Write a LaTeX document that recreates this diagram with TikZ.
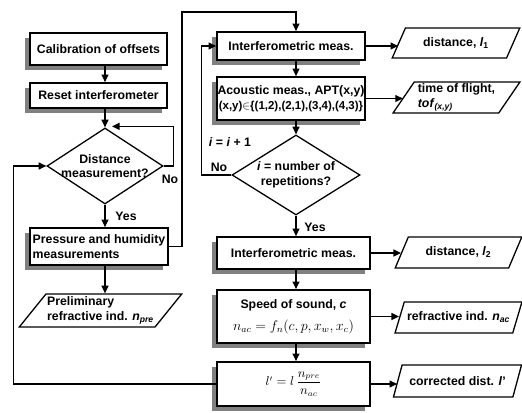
\documentclass[tikz,border=0pt]{standalone}
\usepackage{amsmath}
\usepackage{fontspec}
\setmainfont{Liberation Sans}
\usetikzlibrary{arrows.meta,positioning,calc,shapes.geometric,shadows}

\begin{document}
\begin{tikzpicture}[x=1cm,y=1cm,>={Triangle[length=6.5pt,width=6pt]},
 every node/.style={font=\fontsize{10.5}{12.5}\selectfont\bfseries},
 proc/.style={draw,line width=1.5pt,fill=white,inner sep=1pt,align=center,
   drop shadow={shadow xshift=-.15cm,shadow yshift=-.15cm,fill=black!50,opacity=1}},
 decide/.style={draw,diamond,line width=1.1pt,inner sep=0pt},
 io/.style={draw,trapezium,trapezium left angle=56,trapezium right angle=124,trapezium stretches=true,
   line width=1.1pt,inner sep=1pt,align=left},
 flow/.style={->,line width=1.1pt},
 tag/.style={inner sep=1pt}]
\useasboundingbox (0,0) rectangle (15.66,-12.39);
% left column
\node[proc,minimum width=4.11cm,minimum height=.96cm] (cal) at (2.955,-1.47) {Calibration of offsets};
\node[proc,minimum width=4.11cm,minimum height=.75cm] (reset) at (2.955,-2.865) {Reset interferometer};
\node[decide,minimum width=3.48cm,minimum height=2.28cm,
  label={[name=d1txt,align=center]center:Distance\\measurement?}] (d1) at (3.15,-4.98) {};
\node[proc,minimum width=4.14cm,minimum height=1.11cm,align=left] (press) at (2.97,-7.395) {Pressure and humidity\\measurements};
\node[io,trapezium left angle=48,trapezium right angle=132,minimum width=4.65cm,minimum height=.99cm] (prelim) at (3.015,-9.315)
  {Preliminary\\refractive ind. \textit{n}\textsubscript{\textit{pre}}};
% right column
\node[proc,minimum width=4.44cm,minimum height=.84cm] (int1) at (8.73,-1.38) {Interferometric meas.};
\node[io,minimum width=3.84cm,minimum height=.90cm] (dist1) at (13.68,-1.29) {distance, \textit{l}\textsubscript{1}};
\node[proc,minimum width=4.44cm,minimum height=1.29cm,inner sep=0pt] (acou) at (8.73,-2.955)
  {Acoustic meas., APT(x,y)\\{\fontsize{9.8}{12.5}\selectfont(x,y)$\in$\{(1,2),(2,1),(3,4),(4,3)\}}};
\node[io,minimum width=3.81cm,minimum height=.93cm] (tof) at (13.695,-2.925) {time of flight,\\\textit{tof}\textsubscript{\textit{(x,y)}}};
\node[decide,minimum width=3.84cm,minimum height=2.40cm,
  label={[name=d2txt,align=center]center:\textit{i} = number of\\repetitions?}] (d2) at (8.88,-5.25) {};
\node[proc,minimum width=4.59cm,minimum height=.96cm] (int2) at (8.805,-7.59) {Interferometric meas.};
\node[io,minimum width=3.81cm,minimum height=.93cm] (dist2) at (13.755,-7.575) {distance, \textit{l}\textsubscript{2}};
\node[proc,minimum width=4.59cm,minimum height=1.59cm] (speed) at (8.805,-9.495)
  {Speed of sound, \textit{c}\\[6pt]{\mdseries\fontsize{12}{14}\selectfont$n_{ac}=f_n(c,p,x_w,x_c)$}};
\node[io,minimum width=3.81cm,minimum height=.93cm] (ref) at (13.755,-9.525) {refractive ind. \textit{n}\textsubscript{\textit{ac}}};
\node[proc,minimum width=4.59cm,minimum height=1.32cm] (lp) at (8.805,-11.52) {\mdseries$l'=l\,\dfrac{n_{pre}}{n_{ac}}$};
\node[io,minimum width=3.87cm,minimum height=.96cm] (corr) at (13.725,-11.43) {corrected dist. \textit{l}'};
% labels
\node[tag] (no1) at (5.1,-5.37) {No};
\node[tag] (yes1) at (3.78,-6.48) {Yes};
\node[tag] (incr) at (6.9,-4.26) {\textit{i} = \textit{i} + 1};
\node[tag] (no2) at (6.57,-5.01) {No};
\node[tag] (yes2) at (9.45,-6.81) {Yes};
\coordinate (d1in) at ($(d1.north)+(.21,.03)$);
\coordinate (ptop) at (5.46,-.36);

\draw[flow] (cal.south -| d1.north)--(reset.north -| d1.north);
\draw[flow] (reset.south -| d1.north)--(d1.north);
\draw[flow] (d1.east)--++(.3,0)|-(d1in);
\draw[flow] (d1.south)--(d1.south |- press.north);
\draw[flow] (press.south -| d1.south)--(prelim.north -| d1.south);
\draw[flow] (press.east)-|(ptop)-|(int1.north -| d2.north);
\draw[flow] (int1.east)--(int1.east -| dist1.west);
\draw[flow] (int1.south -| d2.north)--(acou.north -| d2.north);
\draw[flow] (acou.east)--(acou.east -| tof.west);
\draw[flow] (acou.south -| d2.north)--(d2.north);
\draw[flow] (d2.west)--++(-.9,0)|-(int1.west);
\draw[flow] (d2.south)--(d2.south |- int2.north);
\draw[flow] (int2.east)--(int2.east -| dist2.west);
\draw[flow] (int2.south -| d2.north)--(speed.north -| d2.north);
\draw[flow] (speed.east)--(speed.east -| ref.west);
\draw[flow] (speed.south -| d2.north)--(lp.north -| d2.north);
\draw[flow] (lp.east)--(lp.east -| corr.west);
\draw[flow] (lp.west)-|($(d1.west)+(-.99,0)$)--(d1.west);
\end{tikzpicture}
\end{document}
